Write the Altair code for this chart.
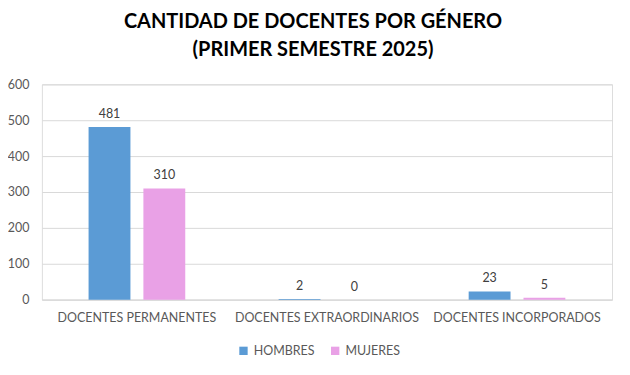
import altair as alt
import pandas as pd

categories = ["DOCENTES PERMANENTES", "DOCENTES EXTRAORDINARIOS", "DOCENTES INCORPORADOS"]
series = ["HOMBRES", "MUJERES"]
hombres = [481, 2, 23]
mujeres = [310, 0, 5]
colors = ["#5B9BD5", "#E9A1E6"]
offsets = [-27.5, 27.5]

rows = []
for c, h, m in zip(categories, hombres, mujeres):
    rows.append({"cat": c, "gen": "HOMBRES", "val": h})
    rows.append({"cat": c, "gen": "MUJERES", "val": m})
df = pd.DataFrame(rows)

font = "Lato"

x = alt.X("cat:N", sort=categories, title=None,
          scale=alt.Scale(paddingInner=0, paddingOuter=0),
          axis=alt.Axis(labelAngle=0, labelFont=font, labelFontSize=12.5,
                        labelColor="#595959", labelPadding=12, ticks=False, grid=False,
                        gridOpacity=0, gridWidth=0, tickOpacity=0, tickWidth=0,
                        tickBand="center", domainColor="#D9D9D9", labelLimit=300))
y = alt.Y("val:Q", title=None,
          scale=alt.Scale(domain=[0, 600]),
          axis=alt.Axis(values=[0, 100, 200, 300, 400, 500, 600], labelFont=font,
                        labelFontSize=12.5, labelColor="#595959", labelPadding=13,
                        labelOverlap=False, tickCount=7,
                        ticks=False, domain=False, grid=True, gridColor="#D9D9D9"))
color = alt.Color("gen:N", sort=series,
                  scale=alt.Scale(domain=series, range=colors),
                  legend=alt.Legend(title=None, orient="none", direction="horizontal",
                                    legendX=196, legendY=261,
                                    symbolType="square", symbolSize=70,
                                    labelFont=font, labelFontSize=12.5,
                                    labelColor="#595959", columnPadding=14,
                                    symbolStrokeWidth=0, labelLimit=200))

layers = []
for s, off in zip(series, offsets):
    base = alt.Chart(df).transform_filter(alt.datum.gen == s)
    layers.append(base.mark_bar(width=42, xOffset=off).encode(x=x, y=y, color=color))
    layers.append(base.mark_text(dy=-13, xOffset=off, font=font, fontSize=12.5,
                                 color="#404040").encode(x=x, y=y, text="val:Q"))

chart = alt.layer(*layers).properties(
    width=572, height=216,
    title=alt.Title(["CANTIDAD DE DOCENTES POR GÉNERO", "(PRIMER SEMESTRE 2025)"],
                    font=font, fontSize=20, fontWeight="bold", color="#000000",
                    lineHeight=29, anchor="middle", offset=18, dx=-14),
    autosize=alt.AutoSizeParams(type="none"),
    padding={"left": 34, "top": 76, "right": 10, "bottom": 70},
).configure_view(strokeWidth=0, stroke="transparent").configure(
    background="white"
).configure_axisX(grid=False, ticks=False).configure_axisBand(grid=False, ticks=False, tickBand="center")

chart.save("out.html", embed_options={"renderer": "svg", "actions": False})
